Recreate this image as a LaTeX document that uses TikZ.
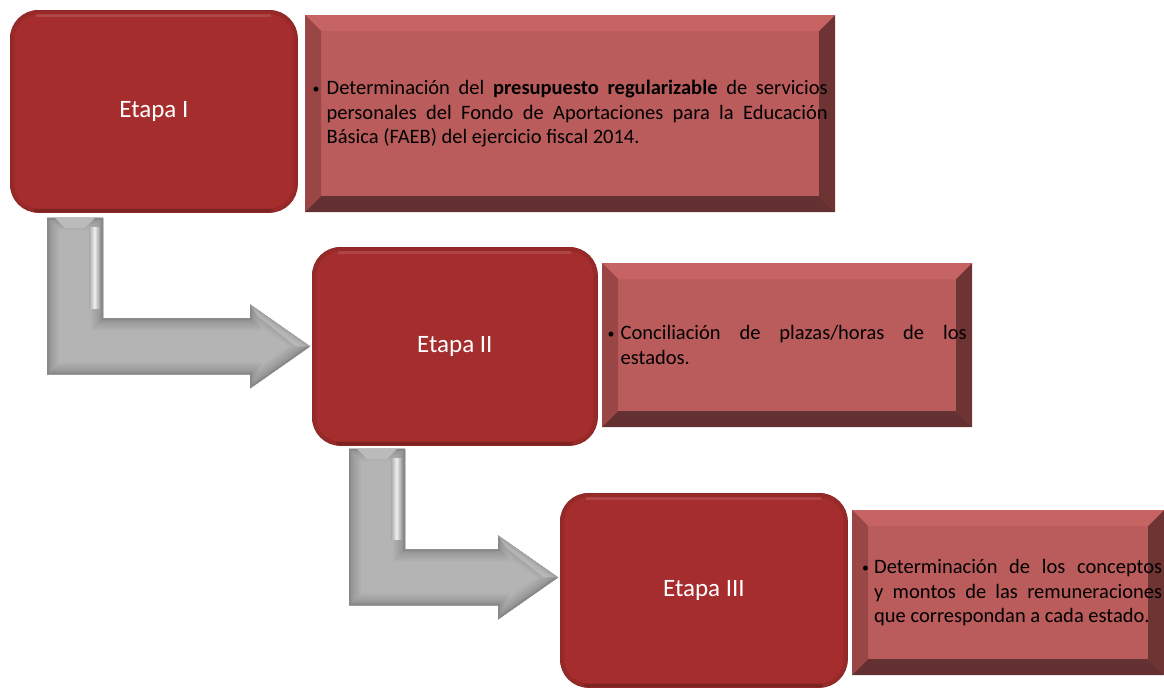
\documentclass[tikz,border=0pt]{standalone}
\usepackage{fontspec}
\setmainfont{Carlito}
\usetikzlibrary{calc}
\definecolor{rojo}{RGB}{166,45,46}
\definecolor{cara}{RGB}{187,92,92}
\definecolor{biselsup}{RGB}{198,99,99}
\definecolor{biselizq}{RGB}{155,70,70}
\definecolor{biselinf}{RGB}{99,49,49}
\definecolor{biselder}{RGB}{110,52,52}
\definecolor{gris}{RGB}{180,180,180}
\tikzstyle{every node}=[anchor=north west]
\tikzstyle{etapa}=[rectangle,rounded corners=28pt,fill=rojo,draw=rojo!85!black,line width=.8pt,
  text=white,font=\fontsize{25}{30}\selectfont,
  path picture={
    \draw[rojo!55!black,line width=8pt,opacity=.2,rounded corners=28pt]
      (path picture bounding box.south west) rectangle (path picture bounding box.north east);
    \draw[rojo!50!black,line width=4pt,opacity=.35]
      ([xshift=24pt,yshift=1pt]path picture bounding box.south west)
      -- ([xshift=-24pt,yshift=1pt]path picture bounding box.south east);
    \draw[white,line width=3pt,opacity=.12]
      ([xshift=26pt,yshift=-5pt]path picture bounding box.north west)
      -- ([xshift=-26pt,yshift=-5pt]path picture bounding box.north east);
  }]
\tikzstyle{detalle}=[rectangle,fill=cara,font=\fontsize{20.5}{24.5}\selectfont,
  path picture={
    \fill[biselsup] (path picture bounding box.north west) -- (path picture bounding box.north east)
      -- ([xshift=-16pt,yshift=-16pt]path picture bounding box.north east)
      -- ([xshift=16pt,yshift=-16pt]path picture bounding box.north west) -- cycle;
    \fill[biselizq] (path picture bounding box.north west) -- (path picture bounding box.south west)
      -- ([xshift=16pt,yshift=16pt]path picture bounding box.south west)
      -- ([xshift=16pt,yshift=-16pt]path picture bounding box.north west) -- cycle;
    \fill[biselinf] (path picture bounding box.south west) -- (path picture bounding box.south east)
      -- ([xshift=-16pt,yshift=16pt]path picture bounding box.south east)
      -- ([xshift=16pt,yshift=16pt]path picture bounding box.south west) -- cycle;
    \fill[biselder] (path picture bounding box.north east) -- (path picture bounding box.south east)
      -- ([xshift=-16pt,yshift=16pt]path picture bounding box.south east)
      -- ([xshift=-16pt,yshift=-16pt]path picture bounding box.north east) -- cycle;
  }]
\tikzstyle{flecha}=[fill=gris,line join=miter]
\newcommand{\vineta}{\raisebox{1.5pt}{\fontsize{14}{14}\selectfont\textbullet}}
\newcommand{\formaflecha}[2]{(#1) -- ++(56,0) |- ([xshift=-60pt,yshift=28pt]#2) -- ++(0,-14)
  -- (#2) -- ([xshift=-60pt,yshift=-42pt]#2) -- ++(0,-14) -| (#1) -- cycle}

\begin{document}
\begin{tikzpicture}[x=1pt,y=-1pt]
  \useasboundingbox (0,0) rectangle (1164,689);

  % etapas
  \node [etapa,minimum width=287pt,minimum height=202pt] (etapa1) at (10,10) {Etapa I};
  \node [etapa,minimum width=285pt,minimum height=198pt] (etapa2) at (312,247) {Etapa II};
  \node [etapa,minimum width=287pt,minimum height=194pt] (etapa3) at (560,493) {Etapa III};

  % descripciones
  \node [detalle,minimum width=530pt,minimum height=197pt,inner xsep=7.5pt] (detalle1) at (305,15)
    {\makebox[14pt][l]{\vineta}\parbox[t]{501pt}{Determinación del
     \textbf{presupuesto regularizable} de servicios\linebreak personales del Fondo de
     Aportaciones para la Educación\linebreak Básica (FAEB) del ejercicio fiscal 2014.}};
  \node [detalle,minimum width=370pt,minimum height=164pt,inner xsep=5.5pt] (detalle2) at (602,263)
    {\makebox[13pt][l]{\vineta}\parbox[t]{346pt}{Conciliación de
     plazas/horas de los\linebreak estados.}};
  \node [detalle,minimum width=312pt,minimum height=165pt,inner xsep=2pt] (detalle3) at (852,510)
    {\hspace*{8pt}\makebox[12pt][l]{\vineta}\parbox[t]{288pt}{Determinación de los
     conceptos\linebreak y montos de las remuneraciones\linebreak que correspondan a cada estado.}};

  % flechas
  \coordinate (base1) at ([xshift=37pt,yshift=-5pt]etapa1.south west);
  \coordinate (punta1) at ([xshift=-2pt]etapa2.west);
  \coordinate (base2) at ([xshift=37pt,yshift=-3pt]etapa2.south west);
  \coordinate (punta2) at ([xshift=-2pt,yshift=13pt]etapa3.west);
  \foreach \b/\p in {base1/punta1,base2/punta2} {
    \begin{scope}
      \clip \formaflecha{\b}{\p};
      \fill [flecha] \formaflecha{\b}{\p};
      \foreach \w/\c in {24/97,20/94,16/91,12/88,8/84,4/76}
        \draw [gris!\c!black,line width=\w pt] \formaflecha{\b}{\p};
      \fill [gris!90!white] ($(\b)+(8,0)$) -- ($(\b)+(48,0)$) -- ($(\b)+(38,10)$) -- ($(\b)+(18,10)$) -- cycle;
      \shade [left color=gris!94!black,right color=gris!85!black,middle color=white!80!gris]
        ($(\b)+(42,10)$) rectangle ($(\b |- \p)+(53,-38)$);
      \fill [white,opacity=.25] ([xshift=-60pt,yshift=42pt]\p) -- (\p) -- ([xshift=-14pt]\p)
        -- ([xshift=-52pt,yshift=30pt]\p) -- cycle;
    \end{scope}
  }
\end{tikzpicture}
\end{document}
